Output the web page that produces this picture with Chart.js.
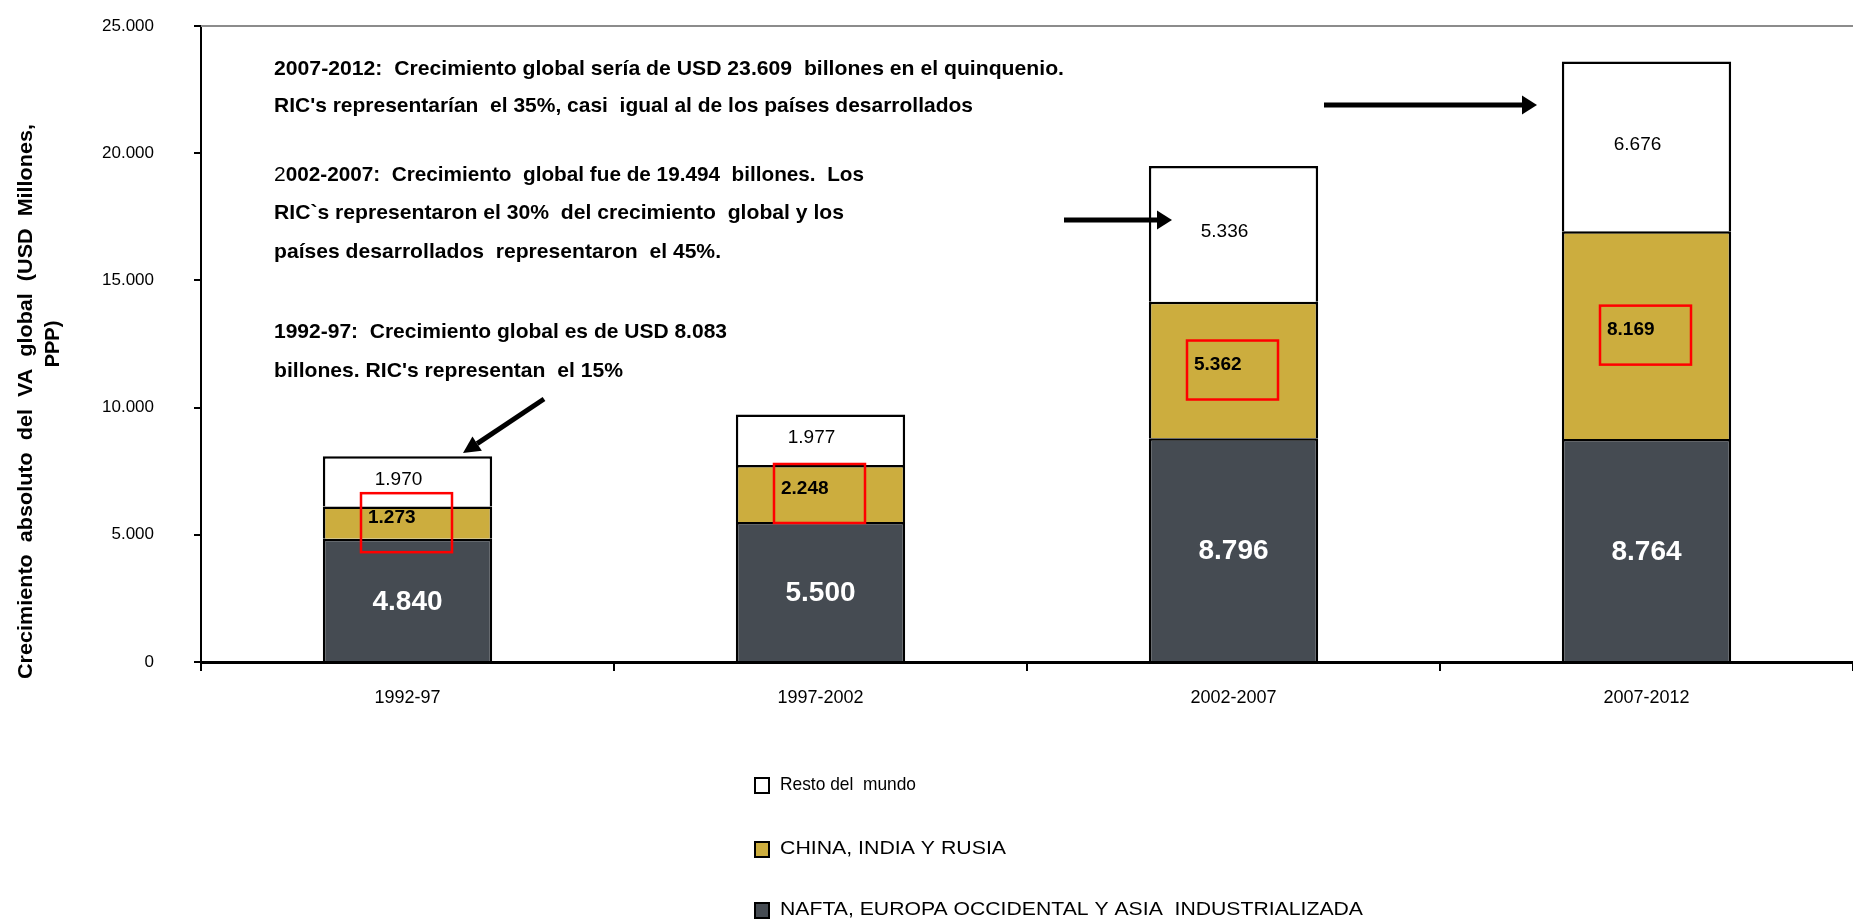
<!DOCTYPE html>
<html>
<head>
<meta charset="utf-8">
<script src="https://cdn.jsdelivr.net/npm/chart.js@4.4.0/dist/chart.umd.min.js"></script>
<style>
  html, body { margin: 0; padding: 0; background: #fff; }
  #wrap { width: 1853px; height: 921px; position: relative; }
</style>
</head>
<body>
<div id="wrap"><canvas id="chart"></canvas></div>
<script>
// periods on the x axis
const periods = ['1992-97', '1997-2002', '2002-2007', '2007-2012'];
// stacked series, bottom to top
const desarrollados = [4840, 5500, 8796, 8764];
const ric = [1273, 2248, 5362, 8169];
const resto = [1970, 1977, 5336, 6676];
const seriesNames = ['NAFTA, EUROPA OCCIDENTAL Y ASIA  INDUSTRIALIZADA', 'CHINA, INDIA Y RUSIA', 'Resto del  mundo'];
const yTickLabels = ['0', '5.000', '10.000', '15.000', '20.000', '25.000'];
const yTitle = ['Crecimiento  absoluto  del  VA  global  (USD  Millones,', 'PPP)'];

const notes = [
  '2007-2012:  Crecimiento global sería de USD 23.609  billones en el quinquenio.',
  'RIC\'s representarían  el 35%, casi  igual al de los países desarrollados',
  '2002-2007:  Crecimiento  global fue de 19.494  billones.  Los',
  'RIC`s representaron el 30%  del crecimiento  global y los',
  'países desarrollados  representaron  el 45%.',
  '1992-97:  Crecimiento global es de USD 8.083',
  'billones. RIC\'s representan  el 15%'
];
const noteY = [69, 106, 175, 213, 252, 332, 371];
const noteW = [790, 699, 590, 570, 447, 453, 349];

const DARK = '#454b52';
const GOLD = '#ccad3e';

const fmt = v => String(v).replace(/\B(?=(\d{3})+(?!\d))/g, '.');

function fitText(ctx, text, x, y, w) {
  const m = ctx.measureText(text).width;
  ctx.save();
  ctx.translate(x, y);
  ctx.scale(w / m, 1);
  ctx.fillText(text, 0, 0);
  ctx.restore();
}

function arrow(ctx, x1, y1, x2, y2, lw, hl, hw) {
  const a = Math.atan2(y2 - y1, x2 - x1);
  ctx.save();
  ctx.strokeStyle = '#000';
  ctx.fillStyle = '#000';
  ctx.lineWidth = lw;
  ctx.beginPath();
  ctx.moveTo(x1, y1);
  ctx.lineTo(x2 - hl * Math.cos(a), y2 - hl * Math.sin(a));
  ctx.stroke();
  ctx.translate(x2, y2);
  ctx.rotate(a);
  ctx.beginPath();
  ctx.moveTo(0, 0);
  ctx.lineTo(-hl, -hw / 2);
  ctx.lineTo(-hl, hw / 2);
  ctx.closePath();
  ctx.fill();
  ctx.restore();
}

const labelPlugin = {
  id: 'barLabels',
  afterDatasetsDraw(chart) {
    const ctx = chart.ctx;
    chart.data.datasets.forEach((ds, di) => {
      const meta = chart.getDatasetMeta(di);
      meta.data.forEach((bar, i) => {
        const cy = (bar.y + bar.base) / 2;
        const txt = fmt(ds.data[i]);
        ctx.save();
        ctx.textBaseline = 'middle';
        if (di === 0) {
          ctx.fillStyle = '#fff';
          ctx.font = 'bold 28px "Liberation Sans", Arial, sans-serif';
          ctx.textAlign = 'center';
          ctx.fillText(txt, bar.x, cy + 2);
        } else if (di === 1) {
          const bw = 91, bh = 59;
          const bx = bar.x - bw / 2 - 1, by = cy - bh / 2;
          ctx.strokeStyle = '#ff0000';
          ctx.lineWidth = 2.5;
          ctx.strokeRect(bx, by, bw, bh);
          ctx.fillStyle = '#000';
          ctx.font = 'bold 19px "Liberation Sans", Arial, sans-serif';
          ctx.textAlign = 'left';
          ctx.fillText(txt, bx + 7, cy - 5);
        } else {
          ctx.fillStyle = '#000';
          ctx.font = '19px "Liberation Sans", Arial, sans-serif';
          ctx.textAlign = 'center';
          ctx.fillText(txt, bar.x - 9, cy - 2);
        }
        ctx.restore();
      });
    });
  }
};

const decorPlugin = {
  id: 'decor',
  afterDraw(chart) {
    const ctx = chart.ctx;
    const area = chart.chartArea;

    // grey top border of plot area
    ctx.save();
    ctx.strokeStyle = '#8c8c8c';
    ctx.lineWidth = 2;
    ctx.beginPath();
    ctx.moveTo(area.left, area.top);
    ctx.lineTo(area.right, area.top);
    ctx.stroke();
    ctx.restore();

    // y axis title
    ctx.save();
    ctx.fillStyle = '#000';
    ctx.font = 'bold 20px "Liberation Sans", Arial, sans-serif';
    ctx.textAlign = 'left';
    ctx.textBaseline = 'middle';
    ctx.translate(26, 402);
    ctx.rotate(-Math.PI / 2);
    fitText(ctx, yTitle[0], -277, 0, 555);
    ctx.restore();
    ctx.save();
    ctx.fillStyle = '#000';
    ctx.font = 'bold 20px "Liberation Sans", Arial, sans-serif';
    ctx.textAlign = 'center';
    ctx.textBaseline = 'middle';
    ctx.translate(53, 344);
    ctx.rotate(-Math.PI / 2);
    ctx.fillText(yTitle[1], 0, 0);
    ctx.restore();

    // annotation text
    ctx.save();
    ctx.fillStyle = '#000';
    ctx.textBaseline = 'middle';
    ctx.textAlign = 'left';
    notes.forEach((t, i) => {
      const x = 274;
      if (i === 2) {
        ctx.font = '21px "Liberation Sans Narrow", "Liberation Sans", Arial, sans-serif';
        const w2 = ctx.measureText('2').width;
        ctx.fillText('2', x, noteY[i]);
        ctx.font = 'bold 21px "Liberation Sans Narrow", "Liberation Sans", Arial, sans-serif';
        fitText(ctx, t.slice(1), x + w2, noteY[i], noteW[i] - w2);
      } else {
        ctx.font = 'bold 21px "Liberation Sans Narrow", "Liberation Sans", Arial, sans-serif';
        fitText(ctx, t, x, noteY[i], noteW[i]);
      }
    });
    ctx.restore();

    // arrows
    arrow(ctx, 544, 399, 463, 453, 5, 17, 17);
    arrow(ctx, 1064, 220, 1172, 220, 5, 15, 19);
    arrow(ctx, 1324, 105, 1537, 105, 5, 15, 19);

    // legend (top item = top of stack)
    const legendY = [785, 849, 910];
    const legendW = [136, 226, 583];
    const items = chart.data.datasets.slice().reverse();
    ctx.save();
    items.forEach((ds, i) => {
      const y = legendY[i];
      ctx.fillStyle = ds.backgroundColor;
      ctx.fillRect(755, y - 7, 14, 15);
      ctx.strokeStyle = '#000';
      ctx.lineWidth = 2;
      ctx.strokeRect(755, y - 7, 14, 15);
      ctx.fillStyle = '#000';
      ctx.font = '19px "Liberation Sans Narrow", "Liberation Sans", Arial, sans-serif';
      ctx.textBaseline = 'middle';
      ctx.textAlign = 'left';
      fitText(ctx, ds.label, 780, y, legendW[i]);
    });
    ctx.restore();
  }
};

new Chart(document.getElementById('chart'), {
  type: 'bar',
  data: {
    labels: periods,
    datasets: [
      { label: seriesNames[0], data: desarrollados, backgroundColor: DARK },
      { label: seriesNames[1], data: ric, backgroundColor: GOLD },
      { label: seriesNames[2], data: resto, backgroundColor: '#ffffff' }
    ].map(d => Object.assign(d, {
      borderColor: '#000',
      borderWidth: 2.5,
      borderSkipped: 'start',
      categoryPercentage: 1,
      barPercentage: 0.41
    }))
  },
  options: {
    responsive: true,
    maintainAspectRatio: false,
    animation: false,
    layout: { padding: { top: 26, right: 0, bottom: 0, left: 0 } },
    plugins: {
      legend: { display: false },
      tooltip: { enabled: false }
    },
    scales: {
      x: {
        stacked: true,
        afterFit: s => { s.height = 259; },
        grid: { drawOnChartArea: false, tickLength: 9, color: '#000', lineWidth: 2, offset: true },
        border: { display: true, color: '#000', width: 3 },
        ticks: {
          color: '#000',
          padding: 16,
          maxRotation: 0,
          font: { family: '"Liberation Sans", Arial, sans-serif', size: 18 }
        }
      },
      y: {
        stacked: true,
        min: 0,
        max: 25000,
        afterFit: s => { s.width = 201; s.paddingTop = 10; s.paddingBottom = 10; },
        grid: { drawOnChartArea: false, tickLength: 7, color: '#000', lineWidth: 2 },
        border: { display: true, color: '#000', width: 2 },
        ticks: {
          stepSize: 5000,
          color: '#000',
          padding: 40,
          font: { family: '"Liberation Sans", Arial, sans-serif', size: 17 },
          callback: (v, i) => yTickLabels[i]
        }
      }
    }
  },
  plugins: [labelPlugin, decorPlugin]
});
</script>
</body>
</html>
